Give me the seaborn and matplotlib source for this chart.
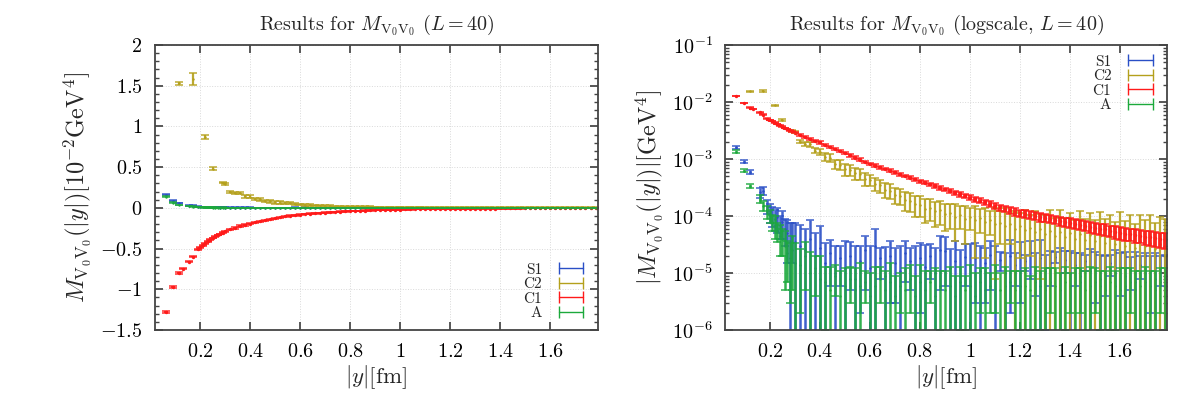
import numpy as np
import matplotlib
matplotlib.use("Agg")
import matplotlib.pyplot as plt
from matplotlib import ticker
from matplotlib.lines import Line2D
import seaborn as sns

# |y| in fm
dist = [0.064, 0.094, 0.118, 0.133, 0.158, 0.172, 0.19, 0.20, 0.21, 0.22, 0.23, 0.24,
        0.25, 0.26, 0.27, 0.28, 0.29, 0.30,
        0.32, 0.34, 0.36, 0.38, 0.40, 0.42, 0.44, 0.46, 0.48, 0.50,
        0.52, 0.54, 0.56, 0.58, 0.60, 0.62, 0.64, 0.66, 0.68, 0.70,
        0.72, 0.74, 0.76, 0.78, 0.80, 0.82, 0.84, 0.86, 0.88, 0.90,
        0.92, 0.94, 0.96, 0.98, 1.00, 1.02, 1.04, 1.06, 1.08, 1.10,
        1.12, 1.14, 1.16, 1.18, 1.20, 1.22, 1.24, 1.26, 1.28, 1.30,
        1.32, 1.34, 1.36, 1.38, 1.40, 1.42, 1.44, 1.46, 1.48, 1.50,
        1.52, 1.54, 1.56, 1.58, 1.60, 1.62, 1.64, 1.66, 1.68, 1.70,
        1.72, 1.74, 1.76, 1.78]

nan = np.nan
# M_V0V0(|y|) contributions in units of 1e-6 GeV^4
s1_val = [1600, 900, 590, nan, 260, 280, 150, 120, 105, 90, 95, 70,
          80, 60, 50, 35, 45, 35,
          30, 25, 40, 20, 28, 15, 22, 10, 18, 12,
          20, 8, 16, 25, 12, 30, 18, 9, 20, 15,
          11, 22, 16, 9, 18, 13, 20, 10, 25, 24,
          12, 16, 9, 19, 14, 18, 11, 15, 21, 13,
          17, 10, 20, 14, 19, 16, 22, 13, 18, 11,
          15, 19, 12, 17, 10, 14, 9, 16, 11, 13,
          8, 12, 15, 10, 13, 9, 12, 7, 14, 10,
          11, 8, 13, 9]
s1_err = [80, 50, 40, nan, 50, 45, 40, 45, 40, 35, 45, 30,
          40, 30, 35, 40, 30, 40,
          40, 35, 45, 30, 38, 18, 16, 20, 12, 25,
          15, 22, 14, 20, 18, 30, 10, 20, 17, 12,
          19, 15, 11, 21, 16, 18, 12, 17, 20, 18,
          14, 20, 16, 13, 18, 15, 19, 12, 16, 17,
          6, 12, 18, 8, 16, 5, 14, 9, 20, 10,
          9, 4, 16, 7, 14, 8, 13, 5, 15, 10,
          13, 8, 6, 15, 9, 14, 7, 16, 6, 12,
          9, 14, 7, 12]

c2_val = [nan, nan, 15300, nan, nan, 15800, nan, nan, nan, 8700, nan, nan,
          4800, nan, nan, nan, 3100, 2950,
          2000, 1850, 1800, 1400, 1350, 1080, 1050, 820, 800, 660,
          650, 560, 540, 450, 430, 370, 345, 290, 280, 235,
          225, 190, 185, 160, 158, 135, 140, 120, 125, 108,
          112, 98, 104, 90, 96, 84, 92, 78, 84, 72,
          76, 66, 72, 60, 66, 56, 62, 52, 58, 48,
          55, 45, 52, 42, 50, 40, 48, 38, 46, 36,
          44, 34, 42, 32, 40, 30, 38, 28, 36, 30,
          34, 26, 32, 28]
c2_err = [nan, nan, 200, nan, nan, 700, nan, nan, nan, 200, nan, nan,
          200, nan, nan, nan, 100, 100,
          120, 130, 150, 150, 170, 170, 170, 160, 160, 150,
          140, 130, 120, 110, 100, 95, 90, 85, 80, 75,
          72, 70, 66, 64, 62, 60, 58, 56, 55, 54,
          52, 62, 44, 58, 40, 66, 42, 60, 38, 64,
          44, 70, 40, 62, 48, 74, 42, 68, 50, 58,
          70, 46, 76, 52, 64, 44, 72, 50, 66, 48,
          74, 54, 62, 46, 78, 52, 68, 44, 70, 56,
          72, 50, 66, 60]

c1_val = [-12800, -9700, -8000, -7500, -6600, -6000, -5100, -4850, -4600, -4350, -4100, -3900,
          -3700, -3500, -3350, -3200, -3050, -2900,
          -2650, -2450, -2250, -2100, -1950, -1790, -1640, -1500, -1380, -1260,
          -1160, -1060, -975, -895, -820, -765, -714, -666, -622, -580,
          -541, -505, -471, -440, -410, -383, -358, -335, -313, -293,
          -274, -256, -239, -224, -210, -197, -185, -174, -164, -150,
          -141, -133, -126, -119, -113, -109, -104, -100, -96, -93,
          -89, -86, -82, -79, -76, -73, -70, -68, -65, -62,
          -60, -58, -55, -53, -51, -49, -48, -46, -45, -43,
          -42, -41, -39, -38]
c1_err = [120, 90, 80, 70, 70, 60, 60, 55, 50, 50, 45, 45,
          40, 40, 40, 40, 40, 40,
          100, 95, 90, 85, 80, 75, 70, 65, 60, 57,
          54, 51, 48, 45, 43, 41, 39, 37, 35, 33,
          31, 29, 28, 27, 26, 25, 24, 23, 22, 21,
          21, 20, 20, 19, 19, 19, 19, 18, 18, 18,
          18, 17, 17, 17, 17, 16, 16, 16, 16, 16,
          15, 15, 15, 15, 15, 14, 14, 14, 14, 14,
          13, 13, 13, 13, 13, 12, 12, 12, 12, 12,
          12, 12, 12, 12]

a_val = [1350, 620, 340, nan, 200, 150, 120, 100, 80, 70, 55, 45,
         40, 30, 22, 18, 25, 15,
         14, 20, 10, 12, 8, 7, 5, 9, 4, 6,
         8, 5, 6, 7, 4, 6, 8, 5, 7, 4,
         6, 5, 8, 4, 7, 5, 7, 4, 6, 5,
         6, 4, 7, 5, 6, 4, 7, 5, 6, 8,
         5, 6, 7, 5, 6, 6, 5, 7, 6, 5,
         7, 6, 5, 7, 6, 6, 7, 5, 6, 7,
         6, 5, 7, 6, 5, 6, 7, 5, 6, 7,
         6, 5, 7, 6]
a_err = [60, 40, 30, nan, 30, 30, 30, 25, 25, 30, 20, 25,
         20, 25, 15, 15, 20, 18,
         12, 15, 13, 8, 12, 6, 8, 5, 7, 6,
         5, 7, 9, 4, 6, 7, 5, 6, 8, 5,
         4, 7, 6, 5, 7, 6, 4, 8, 5, 6,
         7, 5, 6, 4, 8, 6, 5, 7, 4, 6,
         5, 7, 4, 6, 5, 6, 4, 6, 5, 7,
         5, 6, 5, 6, 4, 6, 5, 6, 7, 5,
         5, 6, 6, 5, 7, 6, 5, 6, 5, 6,
         5, 6, 5, 6]

labels = ["S1", "C2", "C1", "A"]
colors = ["#2a4fc6", "#b4a01c", "#ff1a1a", "#1ca93c"]
values = [s1_val, c2_val, c1_val, a_val]
errors = [s1_err, c2_err, c1_err, a_err]
bar_width = {"S1": 1.8, "C2": 1.6, "C1": 2.8, "A": 1.8}

sns.set_theme(style="ticks")
plt.rcParams.update({
    "font.family": "serif",
    "font.serif": ["cmr10"],
    "mathtext.fontset": "cm",
    "axes.formatter.use_mathtext": True,
    "axes.unicode_minus": True,
    "axes.edgecolor": "#444444",
    "axes.linewidth": 1.3,
    "xtick.direction": "in",
    "ytick.direction": "in",
    "xtick.top": True,
    "ytick.right": True,
    "xtick.color": "#444444",
    "ytick.color": "#444444",
    "xtick.labelcolor": "black",
    "ytick.labelcolor": "black",
    "xtick.major.size": 6,
    "ytick.major.size": 6,
    "ytick.minor.size": 3,
    "xtick.labelsize": 14.5,
    "ytick.labelsize": 14.5,
})

fig = plt.figure(figsize=(12.03, 3.93), dpi=100)
ax1 = fig.add_axes([0.1288, 0.1603, 0.3683, 0.7252])
ax2 = fig.add_axes([0.6027, 0.1603, 0.3674, 0.7252])
ax2.set_yscale("log")


def draw(ax, scale, use_abs):
    for lab, col, val, err in zip(labels, colors, values, errors):
        v = np.array(val, dtype=float) * scale
        e = np.array(err, dtype=float) * scale
        if use_abs:
            v = np.abs(v)
        ax.errorbar(dist, v, yerr=e, fmt="none", ecolor=col, elinewidth=bar_width[lab],
                    capsize=3.2, capthick=1.1, alpha=0.9)
        sns.scatterplot(x=dist, y=v, color=col, s=6 if lab == "C1" else 3,
                        linewidth=0, ax=ax, legend=False)


draw(ax1, 1e-4, False)
draw(ax2, 1e-6, True)

fmt = ticker.FuncFormatter(lambda v, p: f"${v:g}$")
for ax in (ax1, ax2):
    ax.set_xlim(0.02, 1.79)
    ax.xaxis.set_major_locator(ticker.FixedLocator([0.2, 0.4, 0.6, 0.8, 1.0, 1.2, 1.4, 1.6]))
    ax.xaxis.set_major_formatter(fmt)
    ax.grid(True, color="#d9d9d9", linestyle=":", linewidth=0.7)
    ax.tick_params(axis="x", pad=9)
    ax.tick_params(axis="y", pad=9, which="both")
    ax.set_xlabel(r"$|y|[\mathrm{fm}]$", fontsize=16.5, labelpad=2)

ax1.set_ylim(-1.5, 2)
ax1.yaxis.set_major_locator(ticker.MultipleLocator(0.5))
ax1.yaxis.set_minor_locator(ticker.MultipleLocator(0.1))
ax1.yaxis.set_major_formatter(fmt)
ax1.set_ylabel(r"$M_{\mathrm{V}_0\mathrm{V}_0}(|y|)[10^{-2}\mathrm{GeV}^4]$", fontsize=17.5, labelpad=5)
ax1.set_title(r"Results for $M_{\mathrm{V}_0\mathrm{V}_0}$ $(L=40)$", fontsize=14.5, pad=11)

ax2.set_ylim(1e-6, 1e-1)
ax2.yaxis.set_major_locator(ticker.LogLocator(base=10, numticks=10))
ax2.yaxis.set_minor_locator(ticker.LogLocator(base=10, subs=np.arange(2, 10), numticks=10))
ax2.yaxis.set_minor_formatter(ticker.NullFormatter())
ax2.set_ylabel(r"$|M_{\mathrm{V}_0\mathrm{V}_0}(|y|)|[\mathrm{GeV}^4]$", fontsize=17.5, labelpad=5)
ax2.set_title(r"Results for $M_{\mathrm{V}_0\mathrm{V}_0}$ (logscale, $L=40$)", fontsize=14.5, pad=11)

handles = [Line2D([0], [0], color=c, lw=1, marker="|", markersize=8, markeredgewidth=1)
           for c in colors]
for ax, loc in ((ax1, "lower right"), (ax2, "upper right")):
    ax.legend(handles, labels, loc=loc, numpoints=2, markerfirst=False, frameon=False,
              fontsize=11, handlelength=2.2, labelspacing=0.05, borderaxespad=0.25,
              handletextpad=0.8)

fig.savefig("out.png", dpi=100)
